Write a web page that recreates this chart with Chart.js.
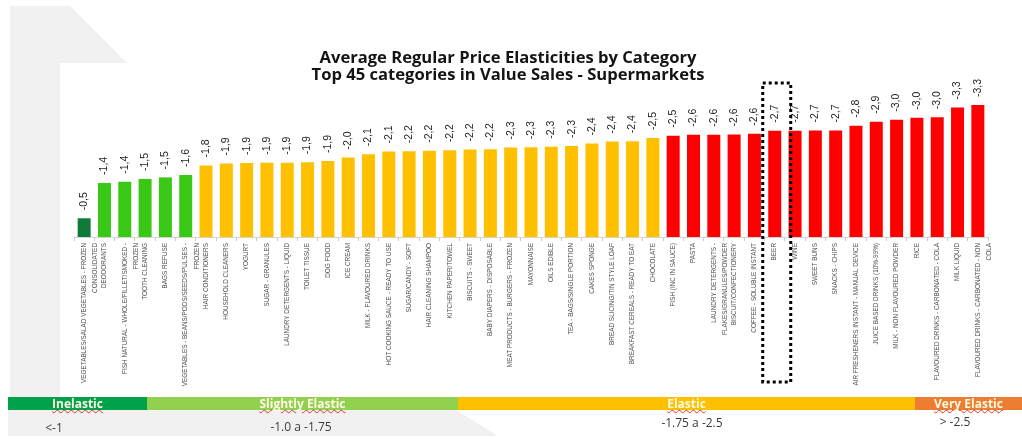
<!DOCTYPE html>
<html>
<head>
<meta charset="utf-8">
<script src="https://cdn.jsdelivr.net/npm/chart.js@4.4.1/dist/chart.umd.min.js"></script>
<style>
  html, body { margin: 0; padding: 0; background: #fff; }
  #wrap { position: relative; width: 1022px; height: 443px; overflow: hidden; font-family: "Open Sans", sans-serif; }
  .bg { position: absolute; left: 0; top: 0; width: 1022px; height: 443px; background: #f1f1f1; }
  #bgTop { clip-path: polygon(10px 6px, 70px 6px, 127px 63px, 60px 63px, 60px 397px, 10px 397px); }
  #bgBottom { clip-path: polygon(8px 410px, 456px 410px, 498px 436px, 8px 436px); }
  #chart { position: absolute; left: 0; top: 0; }
  #title { position: absolute; left: 0; top: 48px; width: 1016px; text-align: center; font-weight: 700; font-size: 16.6px; line-height: 17px; color: #141414; }
  .seg { position: absolute; top: 397px; height: 13px; text-align: center; font-weight: 700; font-size: 12px; line-height: 13px; color: #fffbe6;
         text-decoration: underline wavy #e03030; text-decoration-thickness: 1px; text-underline-offset: 1px; }
  .range { position: absolute; font-size: 12px; color: #3a3a3a; transform: translate(-50%, -50%); white-space: nowrap; }
</style>
</head>
<body>
<div id="wrap">
  <div class="bg" id="bgTop"></div>
  <div class="bg" id="bgBottom"></div>
  <canvas id="chart" width="1022" height="443"></canvas>
  <div id="title">Average Regular Price Elasticities by Category<br>Top 45 categories in Value Sales - Supermarkets</div>
  <div class="seg" style="left:8px;width:139px;background:#00a14b;">Inelastic</div>
  <div class="seg" style="left:147px;width:311px;background:#92d050;">Slightly Elastic</div>
  <div class="seg" style="left:458px;width:457px;background:#ffc000;">Elastic</div>
  <div class="seg" style="left:915px;width:107px;background:#ed7d31;">Very Elastic</div>
  <div class="range" style="left:54px;top:427px;">&lt;-1</div>
  <div class="range" style="left:301px;top:426px;">-1.0 a -1.75</div>
  <div class="range" style="left:692px;top:422px;">-1.75 a -2.5</div>
  <div class="range" style="left:955px;top:421px;">&gt; -2.5</div>
</div>
<script>
  // categories as printed under the bars (multi-line ones are arrays)
  const categories = [
    ["VEGETABLES/SALAD VEGETABLES - FROZEN", "CONSOLIDATED"],
    "DEODORANTS",
    ["FISH NATURAL - WHOLE/FILLET/SMOKED -", "FROZEN"],
    "TOOTH CLEANING",
    "BAGS REFUSE",
    ["VEGETABLES - BEANS/PODS/SEEDS/PULSES -", "FROZEN"],
    "HAIR CONDITIONERS",
    "HOUSEHOLD CLEANERS",
    "YOGURT",
    "SUGAR - GRANULES",
    "LAUNDRY DETERGENTS - LIQUID",
    "TOILET TISSUE",
    "DOG FOOD",
    "ICE CREAM",
    "MILK - FLAVOURED DRINKS",
    "HOT COOKING SAUCE - READY TO USE",
    "SUGAR/CANDY - SOFT",
    "HAIR CLEANING SHAMPOO",
    "KITCHEN PAPER/TOWEL",
    "BISCUITS - SWEET",
    "BABY DIAPERS - DISPOSABLE",
    "MEAT PRODUCTS - BURGERS - FROZEN",
    "MAYONNAISE",
    "OILS EDIBLE",
    "TEA - BAGS/SINGLE PORTION",
    "CAKES SPONGE",
    "BREAD SLICING/TIN STYLE LOAF",
    "BREAKFAST CEREALS - READY TO EAT",
    "CHOCOLATE",
    "FISH (INC IN SAUCE)",
    "PASTA",
    ["LAUNDRY DETERGENTS -", "FLAKES/GRANULES/POWDER"],
    "BISCUIT/CONFECTIONERY",
    "COFFEE - SOLUBLE INSTANT",
    "BEER",
    "WINE",
    "SWEET BUNS",
    "SNACKS - CHIPS",
    "AIR FRESHENERS INSTANT - MANUAL DEVICE",
    "JUICE BASED DRINKS (10%-99%)",
    "MILK - NON FLAVOURED POWDER",
    "RICE",
    "FLAVOURED DRINKS - CARBONATED - COLA",
    "MILK LIQUID",
    ["FLAVOURED DRINKS - CARBONATED - NON", "COLA"]
  ];

  const elasticities = [
    -0.47, -1.36, -1.39, -1.46, -1.50, -1.56, -1.80, -1.85, -1.86, -1.87,
    -1.87, -1.88, -1.91, -2.00, -2.08, -2.15, -2.16, -2.17, -2.18, -2.20,
    -2.21, -2.25, -2.26, -2.27, -2.29, -2.35, -2.40, -2.41, -2.49, -2.55,
    -2.57, -2.57, -2.58, -2.60, -2.67, -2.67, -2.68, -2.68, -2.80, -2.90,
    -2.95, -3.00, -3.01, -3.26, -3.32
  ];

  // band limits used for the bar colours
  const bandLimits = [-1, -1.75, -2.5];
  const bandColors = ["#0f7a3a", "#3ac817", "#ffc000", "#ff0000"];
  const highlighted = "BEER";

  function colorFor(v) {
    if (v > bandLimits[0]) return bandColors[0];
    if (v >= bandLimits[1]) return bandColors[1];
    if (v >= bandLimits[2]) return bandColors[2];
    return bandColors[3];
  }

  const valueLabels = {
    id: "valueLabels",
    afterDatasetsDraw(chart) {
      const ctx = chart.ctx;
      const meta = chart.getDatasetMeta(0);
      ctx.save();
      ctx.fillStyle = "#1e1e1e";
      ctx.font = "10.5px 'Liberation Sans', Arial, sans-serif";
      ctx.textAlign = "left";
      ctx.textBaseline = "middle";
      meta.data.forEach((bar, i) => {
        const txt = elasticities[i].toFixed(1).replace(".", ",");
        ctx.save();
        ctx.translate(bar.x, bar.y - 8);
        ctx.rotate(-Math.PI / 2);
        ctx.fillText(txt, 0, 0);
        ctx.restore();
      });
      ctx.restore();
    }
  };

  // dotted frame around the highlighted category
  const dottedBox = {
    id: "dottedBox",
    afterDraw(chart) {
      const idx = categories.indexOf(highlighted);
      const x = chart.scales.x.getPixelForValue(idx);
      const ctx = chart.ctx;
      ctx.save();
      ctx.strokeStyle = "#000";
      ctx.lineWidth = 3;
      ctx.setLineDash([3, 3]);
      ctx.strokeRect(x - 12, chart.chartArea.top + 5, 28, 299);
      ctx.restore();
    }
  };

  new Chart(document.getElementById("chart").getContext("2d"), {
    type: "bar",
    data: {
      labels: categories,
      datasets: [{
        data: elasticities,
        backgroundColor: elasticities.map(colorFor),
        borderWidth: 0,
        barPercentage: 0.64,
        categoryPercentage: 1
      }]
    },
    options: {
      responsive: false,
      animation: false,
      layout: { padding: { left: 74, right: 34, top: 78, bottom: 0 } },
      plugins: {
        legend: { display: false },
        tooltip: { enabled: false }
      },
      scales: {
        x: {
          offset: true,
          grid: { display: true, drawOnChartArea: false, offset: true, tickLength: 4, color: "#c5cdd8" },
          border: { color: "#d4d4d4" },
          ticks: {
            autoSkip: false,
            maxRotation: 90,
            minRotation: 90,
            padding: 2,
            color: "#505050",
            font: { family: "'Liberation Sans', Arial, sans-serif", size: 6.4, lineHeight: 1.8 }
          },
          afterFit(scale) { scale.height = 443 - 237; }
        },
        y: { display: false, reverse: true, min: -4, max: 0 }
      }
    },
    plugins: [valueLabels, dottedBox]
  });
</script>
</body>
</html>
